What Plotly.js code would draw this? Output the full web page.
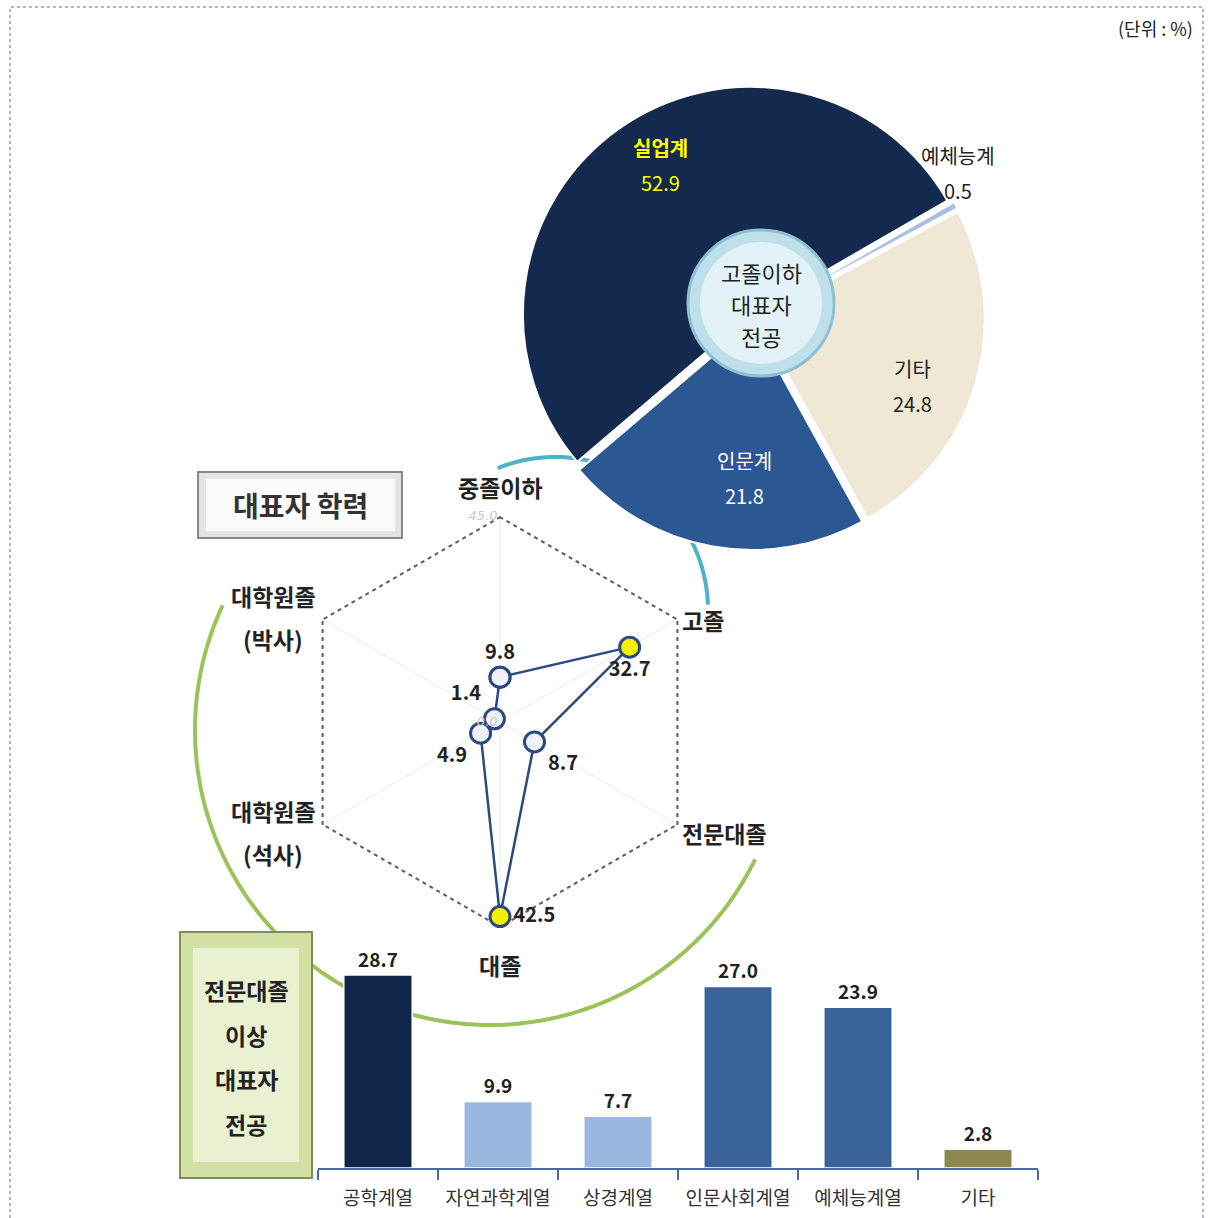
<!DOCTYPE html>
<html><head><meta charset="utf-8">
<script src="https://cdn.plot.ly/plotly-3.0.1.min.js"></script>
<style>html,body{margin:0;padding:0;background:#fff;}#chart{width:1210px;height:1218px;}</style>
</head><body><div id="chart"></div>
<script>
// ---- Pie: 고졸이하 대표자 전공 ----
const pieLabels = ['예체능계','기타','인문계','실업계'];
const pieValues = [0.5, 24.8, 21.8, 52.9];
const pieColors = ['#a8bfe0','#efe8d4','#2b5792','#13294d'];
const pieTextColors = ['#222222','#222222','#ffffff','#ffff00'];
const pieTitleLines = ['고졸이하','대표자','전공'];

// ---- Radar: 대표자 학력 ----
const eduCategories = ['중졸이하','고졸','전문대졸','대졸','대학원졸(석사)','대학원졸(박사)'];
const eduValues = [9.8, 32.7, 8.7, 42.5, 4.9, 1.4];
const eduHighlight = [false, true, false, true, false, false];
const eduTextPos = ['top center','bottom center','bottom right','middle right','bottom left','top left'];
const radarMax = 45;
const radarTickText = ['0.0','45.0'];
const radarTitle = '대표자 학력';

// ---- Bars: 전문대졸 이상 대표자 전공 ----
const majorCategories = ['공학계열','자연과학계열','상경계열','인문사회계열','예체능계열','기타'];
const majorValues = [28.7, 9.9, 7.7, 27.0, 23.9, 2.8];
const majorColors = ['#10254a','#9ab7df','#9ab7df','#3a6399','#3a6399','#8c8850'];
const barTitleLines = ['전문대졸','이상','대표자','전공'];
const unitText = '(단위 : %)';

const W = 1210, H = 1218;
const FONT = '"Noto Sans CJK KR", "Noto Sans", sans-serif';
const px = x => x / W;
const py = y => 1 - y / H;

function arcPath(cx, cy, r, a0, a1, n) {
  let d = '';
  for (let i = 0; i <= n; i++) {
    const a = (a0 + (a1 - a0) * i / n) * Math.PI / 180;
    const x = px(cx + r * Math.cos(a));
    const y = py(cy - r * Math.sin(a));
    d += (i ? 'L' : 'M') + x.toFixed(5) + ',' + y.toFixed(5);
  }
  return d;
}

const pieTrace = {
  type: 'pie', labels: pieLabels, values: pieValues, sort: false,
  direction: 'clockwise', rotation: 60, hole: 0.22,
  domain: {x: [px(521), px(985)], y: [py(550), py(86)]},
  marker: {colors: pieColors, line: {color: '#ffffff', width: 2}},
  pull: [0.02, 0.02, 0.02, 0.02],
  textinfo: 'none',
  showlegend: false, hoverinfo: 'label+value'
};

const closeR = eduValues.concat([eduValues[0]]);
const closeT = eduCategories.concat([eduCategories[0]]);

const hexTrace = {
  type: 'scatterpolar', mode: 'lines',
  r: eduCategories.map(() => radarMax).concat([radarMax]),
  theta: closeT,
  line: {color: '#5e5e5e', width: 4, dash: '4px,4px'},
  hoverinfo: 'skip', showlegend: false
};

const markerCol = eduHighlight.map(h => h ? '#f2f000' : '#eef2f7');
const radarTrace = {
  type: 'scatterpolar', mode: 'lines+markers+text',
  r: closeR, theta: closeT,
  text: eduValues.map(v => v.toFixed(1)).concat(['']),
  textposition: eduTextPos.concat(['top center']),
  textfont: {family: FONT, size: 20, color: '#222', weight: 'bold'},
  line: {color: '#2b4a80', width: 2.5},
  marker: {size: 20, color: markerCol.concat([markerCol[0]]),
    line: {color: '#2b4a80', width: 3}},
  cliponaxis: false, showlegend: false
};

const barTrace = {
  type: 'bar', x: majorCategories, y: majorValues, xaxis: 'x', yaxis: 'y',
  width: 0.57,
  marker: {color: majorColors, line: {color: '#ffffff', width: 1.5}},
  text: majorValues.map(v => v.toFixed(1)), textposition: 'outside',
  textfont: {family: FONT, size: 19, color: '#222', weight: 'bold'},
  cliponaxis: false, showlegend: false, hoverinfo: 'x+y'
};

const shapes = [
  {type: 'rect', xref: 'paper', yref: 'paper', x0: px(10), x1: px(1203), y0: -0.05, y1: py(7),
   line: {color: '#5a64a8', width: 1, dash: 'dot'}, layer: 'below'},
  {type: 'path', xref: 'paper', yref: 'paper', path: arcPath(555, 610, 153, 112, 2, 60),
   line: {color: '#4fb2c8', width: 4}, layer: 'below'},
  {type: 'path', xref: 'paper', yref: 'paper', path: arcPath(490, 730, 295, 155, 334, 120),
   line: {color: '#9cc25a', width: 4}, layer: 'below'},
  {type: 'rect', xref: 'paper', yref: 'paper', x0: px(198), x1: px(402), y0: py(538), y1: py(472),
   fillcolor: '#e4e4e4', line: {color: '#8a8a8a', width: 2}, layer: 'above'},
  {type: 'rect', xref: 'paper', yref: 'paper', x0: px(206), x1: px(395), y0: py(531), y1: py(479),
   fillcolor: '#fbfbfb', line: {width: 0}, layer: 'above'},
  {type: 'rect', xref: 'paper', yref: 'paper', x0: px(180), x1: px(312), y0: py(1178), y1: py(932),
   fillcolor: '#d2e0a4', line: {color: '#7f8f5c', width: 2}, layer: 'above'},
  {type: 'rect', xref: 'paper', yref: 'paper', x0: px(193), x1: px(299), y0: py(1162), y1: py(948),
   fillcolor: '#e9f1d0', line: {width: 0}, layer: 'above'},
  {type: 'circle', xref: 'paper', yref: 'paper', x0: px(688), x1: px(834), y0: py(376), y1: py(230),
   fillcolor: '#bfe0ea', line: {color: '#8fc0d2', width: 3}, layer: 'above'},
  {type: 'circle', xref: 'paper', yref: 'paper', x0: px(700), x1: px(822), y0: py(364), y1: py(242),
   fillcolor: '#e2f2f6', line: {width: 0}, layer: 'above'}
];

const annotations = [];
function ann(text, x, y, opts) {
  annotations.push(Object.assign({text: text, xref: 'paper', yref: 'paper', x: px(x), y: py(y),
    showarrow: false, xanchor: 'center', yanchor: 'middle',
    font: {family: FONT, size: 23, color: '#222'}}, opts || {}));
}
ann(unitText, 1155, 28, {font: {family: FONT, size: 18, color: '#222'}});
ann(radarTitle, 300, 505, {font: {family: FONT, size: 28, color: '#333', weight: 'bold'}});
pieTitleLines.forEach((t, i) => ann(t, 761, 272 + i * 32, {font: {family: FONT, size: 22, color: '#222'}}));
barTitleLines.forEach((t, i) => ann(t, 246, 990 + i * 44.5, {font: {family: FONT, size: 23, color: '#222', weight: 'bold'}}));

// pie slice labels (name + value)
const pieLabelPos = [[958, 155], [912, 368], [745, 460], [660, 148]];
pieLabels.forEach((l, i) => {
  const p = pieLabelPos[i];
  const isMain = i === 3;
  ann(l, p[0], p[1], {font: {family: FONT, size: 20, color: pieTextColors[i], weight: isMain ? 'bold' : 'normal'}});
  ann(pieValues[i].toFixed(1), p[0], p[1] + 35, {font: {family: FONT, size: 20, color: pieTextColors[i]}});
});

// radar category labels
const eduLabelPos = [[500, 487, 'center'], [680, 620, 'left'], [680, 833, 'left'], [500, 965, 'center'], [273, 811, 'center'], [273, 596, 'center']];
eduCategories.forEach((c, i) => {
  const p = eduLabelPos[i];
  const parts = c.split('(');
  const f = {family: FONT, size: 23, color: '#222', weight: 'bold'};
  ann(parts[0], p[0], p[1], {xanchor: p[2], font: f});
  if (parts.length > 1) ann('(' + parts[1], p[0], p[1] + 43, {xanchor: p[2], font: f});
});

const layout = {
  width: W, height: H, margin: {l: 0, r: 0, t: 0, b: 0},
  paper_bgcolor: '#ffffff', plot_bgcolor: 'rgba(0,0,0,0)', showlegend: false,
  font: {family: FONT},
  polar: {
    domain: {x: [px(294), px(706)], y: [py(928), py(516)]},
    bgcolor: 'rgba(0,0,0,0)', gridshape: 'linear',
    angularaxis: {type: 'category', categoryorder: 'array', categoryarray: eduCategories,
      rotation: 90, direction: 'clockwise', showline: false, showticklabels: false, ticks: '',
      showgrid: true, gridcolor: '#ececec', gridwidth: 1},
    radialaxis: {range: [0, radarMax], tickvals: [0, radarMax], ticktext: radarTickText,
      showline: false, showgrid: false, ticks: '', angle: 90, side: 'counterclockwise', tickangle: 90,
      tickfont: {family: 'DejaVu Sans', size: 13, color: '#c8c8c8', style: 'italic'}}
  },
  xaxis: {domain: [px(318), px(1038)], anchor: 'y', type: 'category',
    showline: true, linecolor: '#4a6a9a', linewidth: 2,
    ticks: 'outside', tickson: 'boundaries', ticklen: 10, tickwidth: 2, tickcolor: '#4a6a9a',
    tickfont: {family: FONT, size: 19, color: '#333'}, ticklabelstandoff: 12,
    showgrid: false, zeroline: false, fixedrange: true},
  yaxis: {domain: [py(1168), py(930)], anchor: 'x', range: [0, 35.4], visible: false, fixedrange: true},
  shapes: shapes, annotations: annotations
};

Plotly.newPlot('chart', [barTrace, pieTrace, hexTrace, radarTrace], layout, {displayModeBar: false, staticPlot: true});
</script>
</body></html>
